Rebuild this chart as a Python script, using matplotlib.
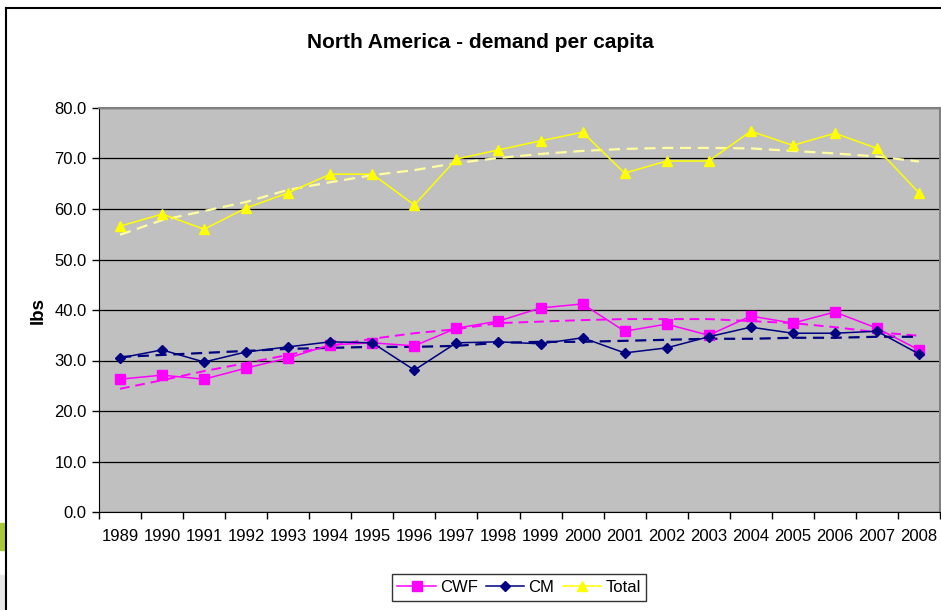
import matplotlib
matplotlib.use("Agg")
import matplotlib.pyplot as plt
from matplotlib.ticker import FormatStrFormatter
from matplotlib.patches import Rectangle
from matplotlib.lines import Line2D

plt.rcParams['font.family'] = ['Liberation Sans', 'DejaVu Sans']

# data
years = [str(y) for y in range(1989, 2009)]
cwf = [26.3, 27.1, 26.3, 28.5, 30.5, 33.1, 33.5, 32.9, 36.4, 37.8,
       40.4, 41.2, 35.8, 37.2, 35.0, 38.8, 37.4, 39.6, 36.4, 32.1]
cm = [30.5, 32.1, 29.7, 31.7, 32.7, 33.7, 33.5, 28.1, 33.5, 33.7,
      33.3, 34.5, 31.5, 32.5, 34.7, 36.6, 35.4, 35.4, 35.8, 31.3]
total = [56.6, 59.0, 56.0, 60.2, 63.2, 66.9, 66.9, 60.8, 69.9, 71.7,
         73.5, 75.2, 67.1, 69.5, 69.5, 75.4, 72.6, 75.0, 72.0, 63.2]

# trend lines (dashed) as drawn in the chart
cwf_trend = [24.4, 26.1, 27.9, 29.5, 31.1, 32.9, 34.3, 35.4, 36.2, 37.4,
             37.7, 38.0, 38.2, 38.2, 38.2, 37.8, 37.4, 36.6, 35.6, 34.9]
cm_trend = [30.7, 31.1, 31.5, 31.9, 32.3, 32.5, 32.7, 32.7, 32.9, 33.5,
            33.7, 33.7, 33.9, 34.1, 34.3, 34.3, 34.5, 34.5, 34.7, 34.7]
total_trend = [54.9, 57.8, 59.6, 61.4, 63.8, 65.3, 66.7, 67.7, 69.1, 70.1,
               70.9, 71.5, 71.9, 72.1, 72.1, 72.0, 71.5, 71.0, 70.4, 69.4]

x = list(range(len(years)))

fig = plt.figure(figsize=(9.41, 6.10), dpi=100)
ax = fig.add_axes([99 / 941, 1 - 512 / 610, 841 / 941, 404 / 610])
ax.set_facecolor('#C0C0C0')

# trend lines
ax.plot(x, cwf_trend, color='#FF00FF', lw=1.4, ls=(0, (5, 3)), zorder=3)
ax.plot(x, cm_trend, color='#000080', lw=1.6, ls=(0, (5, 3)), zorder=3)
ax.plot(x, total_trend, color='#FFFFA0', lw=1.6, ls=(0, (5, 3)), zorder=3)

# data series
ax.plot(x, cwf, color='#FF00FF', lw=1.1, marker='s', ms=6.5, label='CWF', zorder=4)
ax.plot(x, cm, color='#000080', lw=1.1, marker='D', ms=5.5, label='CM', zorder=4)
ax.plot(x, total, color='#FFFF00', lw=1.1, marker='^', ms=7.5, label='Total', zorder=4)

ax.set_ylim(0, 80)
ax.set_xlim(-0.5, len(years) - 0.5)
ax.set_yticks(range(0, 81, 10))
ax.yaxis.set_major_formatter(FormatStrFormatter('%.1f'))
ax.grid(axis='y', color='black', lw=0.9)
ax.set_axisbelow(True)

# category axis: ticks between categories, labels centred
ax.set_xticks([i - 0.5 for i in range(len(years) + 1)])
ax.set_xticklabels([])
ax.set_xticks(x, minor=True)
ax.set_xticklabels(years, minor=True)
ax.tick_params(axis='x', which='minor', length=0, pad=12, labelsize=12)
ax.tick_params(axis='x', which='major', length=5, width=1, direction='out')
ax.tick_params(axis='y', length=5, width=1, labelsize=12, pad=4)

for side in ['top', 'right']:
    ax.spines[side].set_color('#808080')
    ax.spines[side].set_linewidth(1.5)
ax.spines['left'].set_color('black')
ax.spines['bottom'].set_color('black')

ax.set_ylabel('lbs', fontsize=13.5, fontweight='bold', labelpad=5)
fig.text(480 / 941, 1 - 42 / 610, 'North America - demand per capita',
         ha='center', va='center', fontsize=15, fontweight='bold')

leg = fig.legend(loc='upper center', bbox_to_anchor=(519 / 941, 1 - 574 / 610),
                 ncol=3, fontsize=12, frameon=True, fancybox=False,
                 handlelength=2.3, columnspacing=0.5, handletextpad=0.25,
                 borderpad=0.35, borderaxespad=0)
leg.get_frame().set_edgecolor('black')
leg.get_frame().set_linewidth(1.0)

# chart frame and slide bits at the edge
fig.add_artist(Line2D([6 / 941, 6 / 941], [0, 1 - 8 / 610], color='black', lw=1.5))
fig.add_artist(Line2D([6 / 941, 1], [1 - 8 / 610, 1 - 8 / 610], color='black', lw=1.5))
fig.add_artist(Rectangle((0, 1 - 550 / 610), 5 / 941, 27 / 610,
                         color='#A8C83A', transform=fig.transFigure))
fig.add_artist(Rectangle((0, 0), 5 / 941, 35 / 610,
                         color='#E6E6E6', transform=fig.transFigure))

fig.savefig('out.png', dpi=100)
